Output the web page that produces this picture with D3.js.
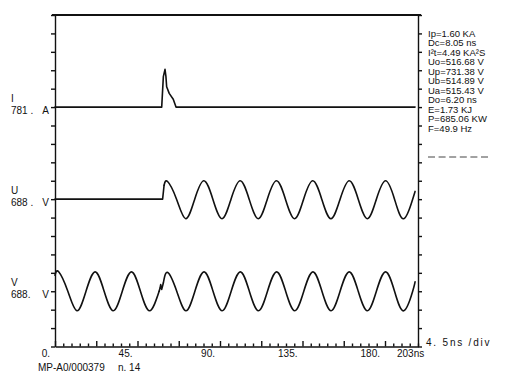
<!DOCTYPE html>
<html><head><meta charset="utf-8">
<script src="https://cdn.jsdelivr.net/npm/d3@7"></script>
<style>
html,body{margin:0;padding:0;background:#fff;}
svg{display:block;font-family:"Liberation Sans",Arial,sans-serif;}
</style></head>
<body><svg id="c" width="509" height="383"></svg>
<script>
// ---------- data ----------
const timeTickLabels = ["0.", "45.", "90.", "135.", "180.", "203ns"];
const timeTickValues = [0, 45, 90, 135, 180, 198];
const channelNames = ["I", "U", "V"];
const channelScales = ["781 .", "688 .", "688."];
const channelUnits = ["A", "V", "V"];
const channelDivision = [5, 10, 15];
const resultLines = ["Ip=1.60 KA", "Dc=8.05 ns", "I\u00b2t=4.49 KA\u00b2S", "Uo=516.68 V", "Up=731.38 V",
  "Ub=514.89 V", "Ua=515.43 V", "Do=6.20 ns", "E=1.73 KJ", "P=685.06 KW", "F=49.9 Hz"];
const footerText = "MP-A0/000379", footerShot = "n. 14", timeBase = "4. 5ns /div";

// current I (A)
const iTime = [0, 58.2, 59.1, 60.0, 60.5, 60.9, 62.3, 64.5, 66.0, 196.4];
const iAmps = [0, 0, 1290, 1600, 1300, 860, 580, 330, 0, 0];

// voltage U (V): flat + step, then oscillation
const uStepTime = [0, 58.7, 59.5];
const uStepVolts = [0, 0, 520];
const uWaveTime = [59.5, 61.4, 66.3, 71.3, 76.2, 81.2, 86.1, 91.1, 96.0, 101.0, 105.9, 110.9, 115.8, 120.8,
  125.7, 130.7, 135.6, 140.6, 145.5, 150.5, 155.5, 160.5, 165.4, 170.4, 175.3, 180.3, 185.2, 190.2, 195.1, 196.4];
const uWaveVolts = [520, 660, 0, -730, 0, 690, 0, -730, 0, 690, 0, -730, 0, 690,
  0, -730, 0, 690, 0, -730, 0, 690, 0, -730, 0, 690, 0, -730, 0, 290];

// voltage V (V): oscillation, glitch, oscillation
const vWave1Time = [0, 2.0, 7.0, 12.0, 16.9, 21.9, 26.8, 31.8, 36.7, 41.7, 46.6, 51.6, 56.8];
const vWave1Volts = [600, 725, 0, -730, 0, 725, 0, -730, 0, 725, 0, -730, 0];
const vGlitchTime = [56.8, 57.3, 57.65, 58.2, 59.1];
const vGlitchVolts = [0, 120, 250, 70, 310];
const vWave2Time = [59.1, 61.5, 66.4, 71.4, 76.3, 81.3, 86.2, 91.2, 96.1, 101.1, 106.0, 111.0, 115.9, 120.9,
  125.8, 130.8, 135.7, 140.7, 145.6, 150.6, 155.5, 160.5, 165.4, 170.4, 175.3, 180.3, 185.2, 190.2, 195.1, 196.4];
const vWave2Volts = [310, 700, 0, -730, 0, 725, 0, -730, 0, 725, 0, -730, 0, 725,
  0, -730, 0, 725, 0, -730, 0, 725, 0, -730, 0, 725, 0, -730, 0, 350];

// ---------- layout ----------
const svg = d3.select("#c");
const L = 55, R = 418, T = 15, B = 346.5;
const x = d3.scaleLinear().domain([0, 198]).range([L, R]);
const yDiv = d3.scaleLinear().domain([0, 18]).range([T, B]);
const chanScale = (div, perDiv) => d3.scaleLinear().domain([0, perDiv]).range([yDiv(div), yDiv(div - 1)]);
const yI = chanScale(channelDivision[0], 781);
const yU = chanScale(channelDivision[1], 688);
const yV = chanScale(channelDivision[2], 688);

// axes
const axStyle = g => { g.selectAll("path,line").attr("stroke", "#111").attr("stroke-width", 1.4); };
svg.append("g").attr("transform", `translate(${L},0)`)
  .call(d3.axisLeft(yDiv).ticks(18).tickSize(4).tickSizeOuter(0).tickFormat("")).call(axStyle);
svg.append("g").attr("transform", `translate(${R},0)`)
  .call(d3.axisRight(yDiv).ticks(18).tickSize(4).tickSizeOuter(0).tickFormat("")).call(axStyle);
const bottom = svg.append("g").attr("transform", `translate(0,${B})`)
  .call(d3.axisTop(x).tickValues(d3.range(0, 198.01, 4.5)).tickSize(3).tickSizeOuter(0).tickFormat("")).call(axStyle);
bottom.selectAll(".tick line").filter((d, i) => i % 5 === 0).attr("y2", -5.5);
svg.append("line").attr("x1", L - 3).attr("x2", R + 3).attr("y1", T).attr("y2", T)
  .attr("stroke", "#111").attr("stroke-width", 2);

// time labels
svg.append("g").selectAll("text").data(timeTickValues).join("text")
  .attr("x", (d, i) => i === timeTickValues.length - 1 ? x(d) - 21 : x(d) - 5)
  .attr("y", 357).attr("text-anchor", (d, i) => i === timeTickValues.length - 1 ? "start" : "end")
  .attr("font-size", 10).attr("fill", "#111").text((d, i) => timeTickLabels[i]);
svg.append("text").attr("x", 38).attr("y", 371).attr("font-size", 10).attr("fill", "#111").text(footerText);
svg.append("text").attr("x", 118).attr("y", 371).attr("font-size", 10).attr("fill", "#111").text(footerShot);
svg.append("text").attr("x", 426).attr("y", 346).attr("font-size", 10).attr("letter-spacing", 1.8)
  .attr("fill", "#111").text(timeBase);

// channel labels
channelNames.forEach((n, i) => {
  const yb = yDiv(channelDivision[i]);
  svg.append("text").attr("x", 11).attr("y", yb - 5).attr("font-size", 10).attr("fill", "#111").text(n);
  svg.append("text").attr("x", 11).attr("y", yb + 6.5).attr("font-size", 10).attr("fill", "#111").text(channelScales[i]);
  svg.append("text").attr("x", 49).attr("y", yb + 6.5).attr("text-anchor", "end").attr("font-size", 10)
    .attr("fill", "#111").text(channelUnits[i]);
});

// results
svg.append("g").selectAll("text").data(resultLines).join("text")
  .attr("x", 428).attr("y", (d, i) => 36.5 + i * 9.5).attr("font-size", 9.5).attr("fill", "#111").text(d => d);
svg.append("line").attr("x1", 428).attr("x2", 489).attr("y1", 157).attr("y2", 157)
  .attr("stroke", "#444").attr("stroke-width", 1).attr("stroke-dasharray", "7,3.6");

// traces
function trace(times, vals, y, curve) {
  svg.append("path").datum(d3.zip(times, vals))
    .attr("d", d3.line().x(d => x(d[0])).y(d => y(d[1])).curve(curve))
    .attr("fill", "none").attr("stroke", "#111").attr("stroke-width", 1.6)
    .attr("stroke-linejoin", "round").attr("stroke-linecap", "round");
}
trace(iTime, iAmps, yI, d3.curveLinear);
trace(uStepTime, uStepVolts, yU, d3.curveLinear);
trace(uWaveTime, uWaveVolts, yU, d3.curveNatural);
trace(vWave1Time, vWave1Volts, yV, d3.curveNatural);
trace(vGlitchTime, vGlitchVolts, yV, d3.curveLinear);
trace(vWave2Time, vWave2Volts, yV, d3.curveNatural);
</script></body></html>
